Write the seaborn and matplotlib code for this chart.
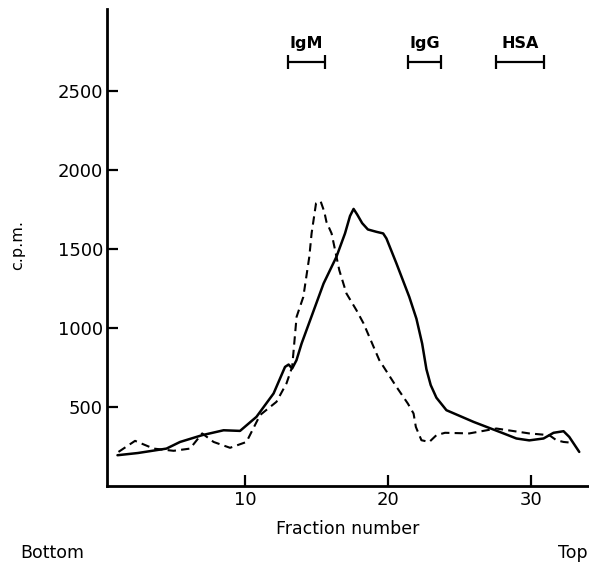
import numpy as np
import pandas as pd
import matplotlib
matplotlib.use('Agg')
import matplotlib.pyplot as plt
import seaborn as sns

# solid curve
solid_x = [1.07, 2.5, 4.5, 5.45, 7.0, 8.5, 9.65, 10.8, 12.0, 12.8, 13.05, 13.3, 13.6, 13.96,
           15.5, 16.4, 17.0, 17.35, 17.6, 17.85, 18.2, 18.6, 19.2, 19.67, 19.9, 20.6, 21.5,
           22.0, 22.4, 22.7, 23.0, 23.4, 24.1, 26.0, 28.1, 29.0, 29.9, 30.9, 31.6, 32.3,
           32.7, 33.4]
solid_y = [196, 210, 238, 280, 323, 354, 350, 439, 587, 755, 770, 745, 797, 903,
           1283, 1452, 1600, 1710, 1755, 1720, 1665, 1625, 1610, 1600, 1568, 1410, 1198,
           1060, 903, 740, 640, 560, 481, 407, 334, 302, 290, 302, 338, 348,
           312, 217]

# dashed curve
dash_x = [1.14, 2.3, 3.6, 5.0, 6.15, 7.0, 7.8, 8.95, 10.1, 11.05, 12.2, 12.9, 13.3, 13.61,
          14.08, 14.5, 14.66, 14.97, 15.29, 15.55, 15.7, 16.06, 16.6, 17.1, 17.8, 18.3, 19.4,
          20.6, 21.4, 21.8, 21.96, 22.35, 22.9, 23.4, 24.0, 25.7, 27.6, 29.9, 31.3, 31.8,
          32.3, 33.0]
dash_y = [217, 287, 238, 224, 238, 334, 280, 243, 280, 450, 534, 650, 755, 1072,
          1198, 1452, 1600, 1790, 1804, 1737, 1673, 1600, 1367, 1220, 1114, 1030, 798,
          629, 523, 460, 375, 291, 280, 323, 338, 334, 365, 334, 323, 291,
          280, 274]

# marker proteins: name, start, end of fraction range
markers = ['IgM', 'IgG', 'HSA']
marker_lo = [13.0, 21.4, 27.6]
marker_hi = [15.6, 23.75, 30.9]
marker_level = 2686

y_ticks = [500, 1000, 1500, 2000, 2500]
x_ticks = [10, 20, 30]

sns.set_style('ticks')
plt.rcParams['font.family'] = ['DejaVu Sans']
plt.rcParams['text.color'] = 'black'
plt.rcParams['axes.labelcolor'] = 'black'
plt.rcParams['xtick.color'] = 'black'
plt.rcParams['ytick.color'] = 'black'
plt.rcParams['axes.edgecolor'] = 'black'

fig = plt.figure(figsize=(5.89, 5.66), dpi=100)
ax = fig.add_axes([0.182, 0.141, 0.816, 0.843])

df_s = pd.DataFrame({'x': solid_x, 'y': solid_y})
df_d = pd.DataFrame({'x': dash_x, 'y': dash_y})
sns.lineplot(data=df_s, x='x', y='y', ax=ax, color='black', lw=1.8, sort=False)
sns.lineplot(data=df_d, x='x', y='y', ax=ax, color='black', lw=1.5, sort=False)
ax.lines[-1].set_dashes((4, 2.5))

for name, lo, hi in zip(markers, marker_lo, marker_hi):
    mid = (lo + hi) / 2
    ax.errorbar(mid, marker_level, xerr=(hi - lo) / 2, color='black', lw=1.6,
                capsize=5, capthick=1.6)
    ax.text(mid, marker_level + 70, name, ha='center', va='bottom', fontsize=11.5,
            fontweight='bold')

ax.set_xlim(0.35, 34)
ax.set_ylim(0, 3020)
ax.set_xticks(x_ticks)
ax.set_yticks(y_ticks)
ax.tick_params(direction='in', length=8, width=1.6, labelsize=13)
ax.tick_params(axis='y', pad=3)
sns.despine(ax=ax)
for s in ['left', 'bottom']:
    ax.spines[s].set_linewidth(2)
ax.set_xlabel('Fraction number', fontsize=12.5, labelpad=8)
ax.set_ylabel('')
fig.text(0.03, 0.567, 'c.p.m.', rotation=90, ha='center', va='center', fontsize=11.5)
fig.text(0.034, 0.023, 'Bottom', ha='left', va='center', fontsize=12.5)
fig.text(0.998, 0.023, 'Top', ha='right', va='center', fontsize=12.5)

fig.savefig('out.png', dpi=100)
